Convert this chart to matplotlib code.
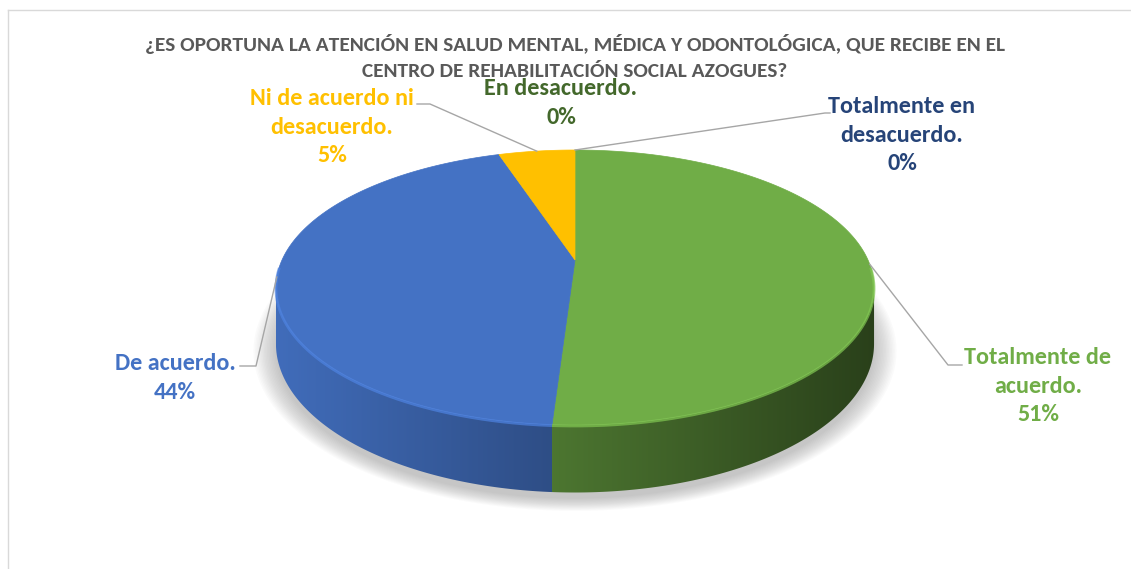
import numpy as np
import matplotlib
matplotlib.use("Agg")
import matplotlib.pyplot as plt
from matplotlib.patches import Polygon
from matplotlib.colors import to_rgb

plt.rcParams['font.family'] = ['Carlito', 'DejaVu Sans']

# data
categories = ["Totalmente de\nacuerdo.", "De acuerdo.", "Ni de acuerdo ni\ndesacuerdo.",
              "En desacuerdo.", "Totalmente en\ndesacuerdo."]
percent = [51, 44, 5, 0, 0]
slice_colors = ["#70AD47", "#4472C4", "#FFC000", "#548235", "#264478"]
label_colors = ["#70AD47", "#4472C4", "#FFC000", "#43682B", "#264478"]
title = ("¿ES OPORTUNA LA ATENCIÓN EN SALUD MENTAL, MÉDICA Y ODONTOLÓGICA, QUE RECIBE EN EL\n"
         "CENTRO DE REHABILITACIÓN SOCIAL AZOGUES?")

# label placement (pixels) and leader-line elbows
label_pos = [(1038, 386), (175, 378), (332, 127), (561, 103), (902, 135)]
leader_elbow = [[(948, 365), (962, 365)], [(256, 366), (240, 366)],
                [(430, 104), (417, 104)], None, [(825, 113), (830, 113)]]

# pie geometry in pixels, simple perspective
CX, CY, RX, RY, PERSP, DEPTH = 575, 260, 293, 132, 0.2, 54


def project(theta, h=0.0):
    x = np.sin(theta)
    z = np.cos(theta)
    w = 1 + PERSP * z
    return CX + RX * x / w, CY - RY * z / w + DEPTH * h / w


def shade(color, f):
    return tuple(min(1, c * f) for c in to_rgb(color))


fig = plt.figure(figsize=(11.31, 5.69), dpi=100)
ax = fig.add_axes([0, 0, 1, 1])
ax.set_xlim(0, 1131)
ax.set_ylim(569, 0)
ax.axis("off")

frac = np.array(percent) / sum(percent)
ends = 2 * np.pi * np.cumsum(frac)
starts = ends - 2 * np.pi * frac

# soft shadow under the pie
ring = np.linspace(0, 2 * np.pi, 240)
bx, by = project(ring, 1.0)
bcy = CY + DEPTH / 0.8
for k in range(16):
    s = 1 + k * 0.005
    ax.add_patch(Polygon(np.column_stack([CX + (bx - CX) * s, bcy + (by - bcy) * s + 6]),
                         closed=True, facecolor="#7F7F7F", edgecolor="none", alpha=0.03, zorder=1))

# visible side of the cylinder, shaded with a horizontal gradient
vis_lo = np.arccos(-PERSP)
vis_hi = 2 * np.pi - vis_lo
left_x = project(vis_hi)[0]
right_x = project(vis_lo)[0]
tgrad = np.linspace(0, 1, 400)
for a1, a2, col in zip(starts, ends, slice_colors):
    lo, hi = max(a1, vis_lo), min(a2, vis_hi)
    if hi <= lo:
        continue
    th = np.linspace(lo, hi, 300)
    xt, yt = project(th)
    xb, yb = project(th[::-1], 1.0)
    poly = Polygon(np.column_stack([np.r_[xt, xb], np.r_[yt, yb]]), closed=True,
                   facecolor="none", edgecolor="none")
    ax.add_patch(poly)
    grad = np.array([[shade(col, 0.95 - 0.58 * t) for t in tgrad]])
    im = ax.imshow(grad, extent=[left_x, right_x, 520, 200], aspect="auto",
                   interpolation="bilinear", zorder=2)
    im.set_clip_path(poly)

# top faces
for a1, a2, col in zip(starts, ends, slice_colors):
    if a2 - a1 <= 0:
        continue
    th = np.linspace(a1, a2, max(3, int((a2 - a1) / 0.01)))
    x, y = project(th)
    pts = np.vstack([[CX, CY], np.column_stack([x, y])])
    ax.add_patch(Polygon(pts, closed=True, facecolor=col, edgecolor=col, linewidth=0.5, zorder=3))

# bevel highlight on the front rim
for a1, a2, col in zip(starts, ends, slice_colors):
    lo, hi = max(a1, vis_lo - 0.15), min(a2, vis_hi + 0.15)
    if hi <= lo:
        continue
    th = np.linspace(lo, hi, 200)
    x, y = project(th)
    ax.plot(x, y + 1, color=shade(col, 1.15), lw=2, alpha=0.7, zorder=4, solid_capstyle="butt")

# leader lines and labels
for i, (name, p) in enumerate(zip(categories, percent)):
    mid = (starts[i] + ends[i]) / 2 if p > 0 else ends[i]
    ax_, ay_ = project(mid)
    if leader_elbow[i]:
        xs = [ax_] + [q[0] for q in leader_elbow[i]]
        ys = [ay_] + [q[1] for q in leader_elbow[i]]
        ax.plot(xs, ys, color="#A6A6A6", lw=1, zorder=5)
    ax.text(label_pos[i][0], label_pos[i][1], f"{name}\n{p}%", color=label_colors[i],
            fontsize=17.4, fontweight="bold", ha="center", va="center",
            linespacing=1.45, zorder=6)

ax.text(575, 57, title, color="#595959", fontsize=15.4, fontweight="bold",
        ha="center", va="center", linespacing=1.62)

# chart area border
ax.plot([8, 1131], [10, 10], color="#D9D9D9", lw=1)
ax.plot([8, 8], [10, 569], color="#D9D9D9", lw=1)

fig.savefig("out.png", dpi=100)
